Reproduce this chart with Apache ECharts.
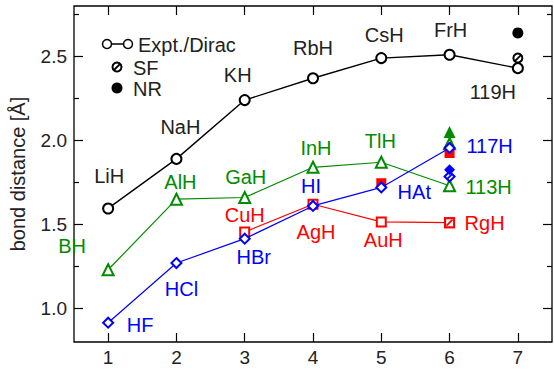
<!DOCTYPE html>
<html>
<head>
<meta charset="utf-8">
<script src="https://cdn.jsdelivr.net/npm/echarts@6/dist/echarts.min.js"></script>
<style>html,body{margin:0;padding:0;background:#fff;}#c{width:554px;height:373px;}</style>
</head>
<body>
<div id="c"></div>
<script>
// ---- data ----
const categories = ['1', '2', '3', '4', '5', '6', '7'];
const yMajorTicks = [1.0, 1.5, 2.0, 2.5];
const yMinorTicks = [1.25, 1.75, 2.25, 2.75];

const alkaliNames = ['LiH', 'NaH', 'KH', 'RbH', 'CsH', 'FrH', '119H'];
const alkaliDirac = [1.595, 1.89, 2.24, 2.37, 2.49, 2.51, 2.43];
const alkaliSF = [[6, 2.49]];
const alkaliNR = [[6, 2.64]];

const group13Names = ['BH', 'AlH', 'GaH', 'InH', 'TlH', '113H', null];
const group13Dirac = [1.23, 1.65, 1.66, 1.84, 1.87, 1.73, null];
const group13SF = [[5, 1.98]];
const group13NR = [[5, 2.05]];

const group11Names = [null, null, 'CuH', 'AgH', 'AuH', 'RgH', null];
const group11Dirac = [null, null, 1.455, 1.62, 1.515, 1.51, null];
const group11SF = [[5, 1.51]];
const group11NR = [[4, 1.745], [5, 1.925]];

const halogenNames = ['HF', 'HCl', 'HBr', 'HI', 'HAt', '117H', null];
const halogenDirac = [0.915, 1.27, 1.415, 1.61, 1.72, 1.955, null];
const halogenSF = [[5, 1.785]];
const halogenNR = [[5, 1.825]];

// ---- styles (label offsets in px relative to the marker) ----
const alkaliLabelOffset = [[1, -32], [4, -32], [-7, -25], [0, -30], [3, -23], [1, -25], [-25, 24]];
const group13LabelOffset = [[-36, -24], [4, -17], [1, -21], [3, -19], [-1, -21], [39, 1], null];
const group11LabelOffset = [null, null, [0, -17], [3, 28], [2, 18], [35, 0], null];
const halogenLabelOffset = [[32, 2], [5, 26], [9, 18], [-2, -20], [33, 5], [40, -2], null];

const FONT = '"Liberation Sans", Arial, Helvetica, sans-serif';
const BLACK = '#000000', GREEN = '#008c00', RED = '#ff0000', BLUE = '#0000ff';

function lineSeries(name, values, names, offsets, color, symbol, size, width, textColor) {
  return {
    name: name, type: 'line', xAxisIndex: 0, yAxisIndex: 0,
    symbol: symbol, symbolSize: size, showAllSymbol: true,
    lineStyle: { color: color, width: width },
    itemStyle: { color: color, borderColor: color, borderWidth: width },
    data: values.map(function (v, i) {
      if (v === null) return '-';
      return {
        value: v,
        label: {
          show: true, position: 'inside', formatter: names[i], offset: offsets[i],
          color: textColor || color, fontSize: 20, fontFamily: FONT
        }
      };
    }),
    z: 3
  };
}

function markerSeries(data, color, symbol, size, filled) {
  return {
    type: 'scatter', xAxisIndex: 0, yAxisIndex: 0,
    symbol: symbol, symbolSize: size,
    itemStyle: filled ? { color: color, opacity: 1 } : { color: color, borderColor: color, borderWidth: 1.6, opacity: 1 },
    data: data, z: 4
  };
}
function slashSeries(data, color, size) {
  return {
    type: 'scatter', xAxisIndex: 0, yAxisIndex: 0,
    symbol: 'path://M0,10L10,0', symbolSize: size,
    itemStyle: { color: 'none', borderColor: color, borderWidth: 1.8, opacity: 1 },
    data: data, z: 5
  };
}

const chart = echarts.init(document.getElementById('c'), null, { renderer: 'svg' });
const yCommon = { type: 'value', min: 0.8, max: 2.8, splitLine: { show: false }, axisLine: { show: false } };

const option = {
  animation: false,
  backgroundColor: '#fff',
  grid: { left: 74, right: 2, top: 6, bottom: 31, show: true, borderColor: '#000', borderWidth: 1.3, containLabel: false },
  xAxis: [
    {
      type: 'category', data: categories, position: 'bottom', boundaryGap: true,
      axisLine: { show: false },
      axisTick: { show: true, inside: true, length: 9, alignWithLabel: true, lineStyle: { color: '#000', width: 1.2 } },
      axisLabel: { color: '#222', fontSize: 19, fontFamily: FONT, margin: 6 },
      splitLine: { show: false }
    },
    {
      type: 'category', data: categories, position: 'top', boundaryGap: true,
      axisLine: { show: false },
      axisTick: { show: true, inside: true, length: 9, alignWithLabel: true, lineStyle: { color: '#000', width: 1.2 } },
      axisLabel: { show: false },
      splitLine: { show: false }
    }
  ],
  yAxis: [
    Object.assign({}, yCommon, {
      position: 'left',
      name: 'bond distance [Å]', nameLocation: 'middle', nameGap: 46,
      nameTextStyle: { color: '#222', fontSize: 20, fontFamily: FONT },
      axisTick: { show: true, inside: true, length: 9, customValues: yMajorTicks, lineStyle: { color: '#000', width: 1.2 } },
      axisLabel: { show: true, customValues: yMajorTicks, formatter: function (v) { return v.toFixed(1); }, color: '#222', fontSize: 19, fontFamily: FONT, margin: 7 }
    }),
    Object.assign({}, yCommon, {
      position: 'left',
      axisTick: { show: true, inside: true, length: 5, customValues: yMinorTicks, lineStyle: { color: '#000', width: 1.2 } },
      axisLabel: { show: false }
    }),
    Object.assign({}, yCommon, {
      position: 'right',
      axisTick: { show: true, inside: true, length: 9, customValues: yMajorTicks, lineStyle: { color: '#000', width: 1.2 } },
      axisLabel: { show: false }
    }),
    Object.assign({}, yCommon, {
      position: 'right',
      axisTick: { show: true, inside: true, length: 5, customValues: yMinorTicks, lineStyle: { color: '#000', width: 1.2 } },
      axisLabel: { show: false }
    })
  ],
  graphic: [
    { type: 'line', shape: { x1: 107, y1: 44, x2: 128, y2: 44 }, style: { stroke: '#000', lineWidth: 1.5 } },
    { type: 'circle', shape: { cx: 107, cy: 44, r: 4.5 }, style: { fill: '#fff', stroke: '#000', lineWidth: 1.5 } },
    { type: 'circle', shape: { cx: 128, cy: 44, r: 4.5 }, style: { fill: '#fff', stroke: '#000', lineWidth: 1.5 } },
    { type: 'text', x: 138, y: 45, style: { text: 'Expt./Dirac', font: '20px ' + FONT, fill: '#222', verticalAlign: 'middle', textVerticalAlign: 'middle' } },
    { type: 'circle', shape: { cx: 117, cy: 67, r: 4.5 }, style: { fill: '#fff', stroke: '#000', lineWidth: 2 } },
    { type: 'line', shape: { x1: 114, y1: 70, x2: 120, y2: 64 }, style: { stroke: '#000', lineWidth: 1.8 } },
    { type: 'text', x: 133, y: 68, style: { text: 'SF', font: '20px ' + FONT, fill: '#222', verticalAlign: 'middle', textVerticalAlign: 'middle' } },
    { type: 'circle', shape: { cx: 117, cy: 88, r: 5.5 }, style: { fill: '#000' } },
    { type: 'text', x: 133, y: 89, style: { text: 'NR', font: '20px ' + FONT, fill: '#222', verticalAlign: 'middle', textVerticalAlign: 'middle' } }
  ],
  series: [
    lineSeries('Expt./Dirac', alkaliDirac, alkaliNames, alkaliLabelOffset, BLACK, 'emptyCircle', 10, 1.4, '#222'),
    lineSeries('group13', group13Dirac, group13Names, group13LabelOffset, GREEN, 'emptyTriangle', 11, 1.2),
    lineSeries('group11', group11Dirac, group11Names, group11LabelOffset, RED, 'emptyRect', 9, 1.2),
    // SF markers
    markerSeries(alkaliSF, BLACK, 'emptyCircle', 9, false), slashSeries(alkaliSF, BLACK, 6),
    markerSeries(group13SF, GREEN, 'emptyTriangle', 11, false), slashSeries(group13SF, GREEN, 5),
    markerSeries(group11SF, RED, 'emptyRect', 9, false), slashSeries(group11SF, RED, 6),
    markerSeries(halogenSF, BLUE, 'emptyDiamond', 10, false), slashSeries(halogenSF, BLUE, 5),
    // NR markers
    markerSeries(alkaliNR, BLACK, 'circle', 11, true),
    markerSeries(group13NR, GREEN, 'triangle', 12, true),
    markerSeries(group11NR, RED, 'rect', 10, true),
    markerSeries(halogenNR, BLUE, 'diamond', 11, true),
    Object.assign(lineSeries('group17', halogenDirac, halogenNames, halogenLabelOffset, BLUE, 'emptyDiamond', 10, 1.2), { z: 6 })
  ]
};
chart.setOption(option);
</script>
</body>
</html>
